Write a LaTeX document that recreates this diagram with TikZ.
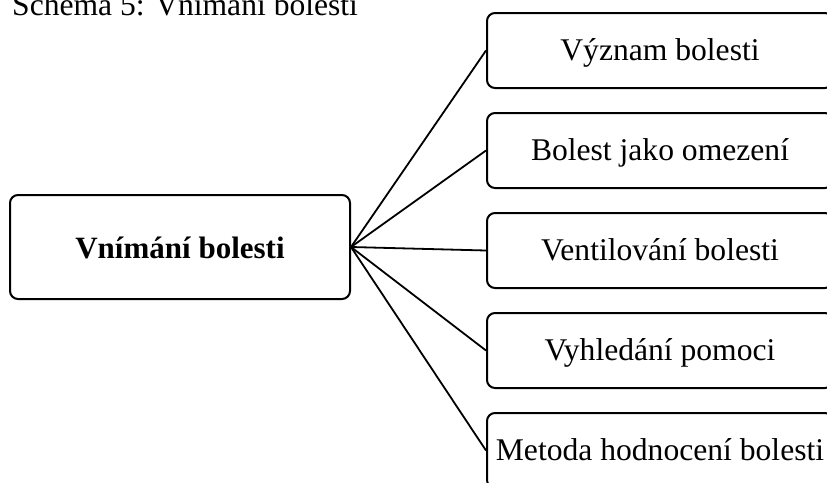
\documentclass[tikz,border=0pt]{standalone}
\usepackage{fontspec}
\setmainfont{Liberation Serif}
\begin{document}
\begin{tikzpicture}[x=1pt,y=-1pt,
  txt/.style={font=\fontsize{31.6}{38}\selectfont},
  leaf/.style={draw, line width=2pt, rounded corners=8pt, minimum width=346pt, minimum height=75pt, inner sep=0pt, txt, text height=26pt, text depth=7pt},
  rootbox/.style={draw, line width=2pt, rounded corners=8pt, minimum width=340pt, minimum height=104pt, inner sep=0pt, txt, font=\fontsize{31}{38}\selectfont\bfseries, text height=29pt, text depth=7pt},
  conn/.style={line width=1.8pt}]
\useasboundingbox (0,0) rectangle (827,482);
\node[txt, anchor=base west, inner sep=0pt] (title) at (12,15) {Schéma 5: Vnímání bolesti};
\node[rootbox] (root) at (180,247) {Vnímání bolesti};
\node[leaf] (a) at (660,50.5) {Význam bolesti};
\node[leaf] (b) at (660,150.5) {Bolest jako omezení};
\node[leaf] (c) at (660,250.5) {Ventilování bolesti};
\node[leaf] (d) at (660,350.5) {Vyhledání pomoci};
\node[leaf] (e) at (660,450.5) {Metoda hodnocení bolesti};
\foreach \n in {a,b,c,d,e} \draw[conn] (root.east) -- (\n.west);
\end{tikzpicture}
\end{document}
